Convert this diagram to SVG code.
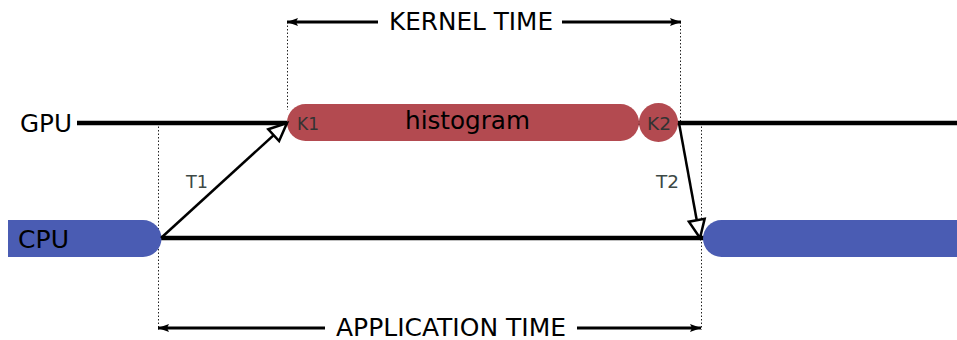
<svg xmlns="http://www.w3.org/2000/svg" width="957" height="340" viewBox="0 0 957 340">
<style>
text{font-family:"DejaVu Sans","Liberation Sans",sans-serif}
.big{font-size:24px;fill:#000}
.small{font-size:18px;fill:#3d4845}
.k{font-size:18px;fill:#333}
.track{stroke:#000;stroke-width:4.5;fill:none}
.dot{stroke:#222;stroke-width:1;stroke-dasharray:1.5,2;fill:none}
.msg{stroke:#000;stroke-width:2.5;fill:none;marker-end:url(#open)}
.dim{stroke:#000;stroke-width:3;fill:none;marker-end:url(#fill)}
.gpu{fill:#b34a50}
.cpu{fill:#4a5cb3}
</style>
<defs>
<marker id="open" markerUnits="userSpaceOnUse" markerWidth="22" markerHeight="20" refX="19" refY="9" orient="auto" overflow="visible">
<path d="M1,1 L19,9 L1,17 z" fill="#fff" stroke="#000" stroke-width="2.5" stroke-linejoin="miter"/>
</marker>
<marker id="fill" markerUnits="userSpaceOnUse" markerWidth="12" markerHeight="10" refX="11" refY="4" orient="auto" overflow="visible">
<path d="M0,0 L11,4 L0,8 L2,4 z" fill="#000"/>
</marker>
</defs>
<g id="guides">
<line class="dot" x1="158.5" y1="123" x2="158.5" y2="330"/>
<line class="dot" x1="287.5" y1="22" x2="287.5" y2="110"/>
<line class="dot" x1="680.5" y1="22" x2="680.5" y2="123"/>
<line class="dot" x1="701.5" y1="123" x2="701.5" y2="330"/>
</g>
<g id="tracks">
<line class="track" x1="77" y1="123" x2="957" y2="123"/>
<line class="track" x1="160" y1="238" x2="704" y2="238"/>
</g>
<g id="gpu-label"><text class="big" x="20" y="131.5" textLength="52" lengthAdjust="spacingAndGlyphs">GPU</text></g>
<g id="cpu-start">
<path class="cpu" d="M8,220 H143 A18.5,18.5 0 0 1 143,257 H8 z"/>
<text class="big" x="18" y="248" textLength="51" lengthAdjust="spacingAndGlyphs">CPU</text>
</g>
<g id="cpu-end">
<path class="cpu" d="M957,220 H721.5 A18.5,18.5 0 0 0 721.5,257 H957 z"/>
</g>
<g id="histogram">
<rect class="gpu" x="287" y="104" width="352" height="37" rx="18.5" ry="18.5"/>
<text class="k" x="297" y="130" textLength="22" lengthAdjust="spacingAndGlyphs">K1</text>
<text class="big" x="405" y="129" textLength="125" lengthAdjust="spacingAndGlyphs">histogram</text>
</g>
<g id="k2">
<circle class="gpu" cx="658.5" cy="122.5" r="19.5"/>
<text class="k" x="647" y="130" textLength="24" lengthAdjust="spacingAndGlyphs">K2</text>
</g>
<g id="connectors">
<line class="msg" x1="161" y1="238" x2="287" y2="123"/>
<line class="msg" x1="679" y1="123" x2="700" y2="238"/>
<text class="small" x="186" y="188" textLength="22" lengthAdjust="spacingAndGlyphs">T1</text>
<text class="small" x="656" y="188" textLength="23" lengthAdjust="spacingAndGlyphs">T2</text>
<line class="dim" x1="378" y1="22" x2="287" y2="22"/>
<line class="dim" x1="562" y1="22" x2="681" y2="22"/>
<line class="dim" x1="325" y1="328" x2="158" y2="328"/>
<line class="dim" x1="577" y1="328" x2="701" y2="328"/>
</g>
<g id="labels">
<text class="big" x="389" y="30" textLength="164" lengthAdjust="spacingAndGlyphs">KERNEL TIME</text>
<text class="big" x="336" y="335.5" textLength="230" lengthAdjust="spacingAndGlyphs">APPLICATION TIME</text>
</g>
</svg>
